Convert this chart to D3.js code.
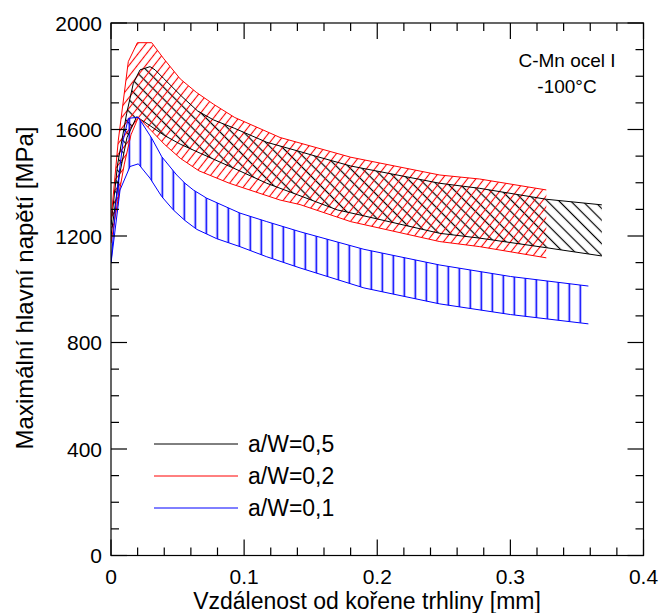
<!DOCTYPE html>
<html>
<head>
<meta charset="utf-8">
<script src="https://cdn.jsdelivr.net/npm/d3@7"></script>
<style>
  body { margin: 0; background: #fff; }
  text { font-family: "Liberation Sans", Arial, sans-serif; fill: #000; }
</style>
</head>
<body>
<svg id="chart" width="661" height="613"></svg>
<script>
// Scatter bands of maximum principal stress vs. distance from crack tip
// Each band: upper and lower envelope as [x (mm), stress (MPa)] pairs.
const blackUpper = [[0,1240],[0.005,1470],[0.0118,1661],[0.0168,1774],[0.0218,1824],[0.0293,1836],[0.0331,1824],[0.0393,1793],[0.053,1725],[0.065,1670],[0.077,1636],[0.093,1604],[0.117,1552],[0.142,1517],[0.155,1498],[0.18,1463],[0.247,1398],[0.277,1379],[0.327,1338],[0.3687,1317]];
const blackLower = [[0,1200],[0.006,1420],[0.012,1570],[0.0193,1648],[0.03,1612],[0.04,1578],[0.052,1545],[0.067,1511],[0.092,1455],[0.117,1398],[0.14,1355],[0.17,1298],[0.187,1279],[0.247,1210],[0.277,1192],[0.327,1156],[0.3687,1125]];

const redUpper = [[0,1260],[0.0055,1560],[0.013,1855],[0.0198,1926],[0.0306,1926],[0.0393,1868],[0.052,1790],[0.064,1740],[0.077,1695],[0.093,1645],[0.127,1570],[0.18,1496],[0.247,1429],[0.277,1414],[0.327,1373]];
const redLower = [[0,1173],[0.005,1330],[0.01,1470],[0.015,1580],[0.0205,1645],[0.03,1597],[0.04,1545],[0.052,1492],[0.066,1445],[0.089,1398],[0.127,1335],[0.142,1318],[0.18,1254],[0.247,1179],[0.277,1160],[0.327,1118]];

const blueUpper = [[0,1098],[0.0045,1370],[0.0092,1561],[0.013,1642],[0.0205,1646],[0.0306,1567],[0.0381,1498],[0.0494,1429],[0.0556,1398],[0.0618,1373],[0.0719,1342],[0.0969,1286],[0.117,1254],[0.142,1216],[0.19,1150],[0.247,1091],[0.3,1048],[0.3586,1012]];
const blueLower = [[0,1098],[0.0068,1373],[0.0143,1461],[0.0205,1471],[0.0293,1417],[0.0381,1348],[0.0468,1298],[0.0556,1258],[0.0644,1225],[0.0794,1190],[0.0969,1160],[0.117,1122],[0.142,1080],[0.19,1005],[0.247,945],[0.3,905],[0.3586,870]];

const seriesNames = ["a/W=0,5", "a/W=0,2", "a/W=0,1"];
const seriesColors = ["#000000", "#ff0000", "#0000ff"];

const xMajorTicks = [0, 0.1, 0.2, 0.3, 0.4];
const xTickLabels = ["0", "0.1", "0.2", "0.3", "0.4"];
const yMajorTicks = [0, 400, 800, 1200, 1600, 2000];
const yTickLabels = ["0", "400", "800", "1200", "1600", "2000"];

const xTitle = "Vzdálenost od kořene trhliny [mm]";
const yTitle = "Maximální hlavní napětí [MPa]";
const noteLines = ["C-Mn ocel I", "-100°C"];

const svg = d3.select("#chart");
const L = 111, R = 643.5, T = 23, B = 555.5;

const x = d3.scaleLinear().domain([0, 0.4]).range([L, R]);
const y = d3.scaleLinear().domain([0, 2000]).range([B, T]);

// hatch patterns
const defs = svg.append("defs");
function hatch(id, color, spacing, angle, width, offset) {
  const p = defs.append("pattern")
    .attr("id", id)
    .attr("patternUnits", "userSpaceOnUse")
    .attr("width", spacing).attr("height", 40)
    .attr("patternTransform", `translate(${offset},0) rotate(${angle})`);
  p.append("line")
    .attr("x1", spacing / 2).attr("x2", spacing / 2)
    .attr("y1", -5).attr("y2", 45)
    .attr("stroke", color).attr("stroke-width", width);
}
hatch("hatchBlack", "#000", 8.3, -45, 1.2, 0);
hatch("hatchRed", "#ff0000", 6.6, 38, 1.1, 0);
hatch("hatchBlue", "#0000ff", 11, 0, 1.6, L + 7.3 - 5.5);

svg.append("clipPath").attr("id", "plotClip")
  .append("rect").attr("x", L).attr("y", T).attr("width", R - L).attr("height", B - T);

const line = d3.line().x(d => x(d[0])).y(d => y(d[1]));

const bands = [
  { upper: blackUpper, lower: blackLower, color: seriesColors[0], fill: "url(#hatchBlack)" },
  { upper: redUpper, lower: redLower, color: seriesColors[1], fill: "url(#hatchRed)" },
  { upper: blueUpper, lower: blueLower, color: seriesColors[2], fill: "url(#hatchBlue)" }
];

const plot = svg.append("g").attr("clip-path", "url(#plotClip)");
bands.forEach(b => {
  const poly = b.upper.concat(b.lower.slice().reverse());
  plot.append("path").attr("d", line(poly) + "Z")
    .attr("fill", b.fill).attr("stroke", "none");
});
bands.forEach(b => {
  [b.upper, b.lower].forEach(edge => {
    plot.append("path").attr("d", line(edge))
      .attr("fill", "none").attr("stroke", b.color).attr("stroke-width", 1);
  });
});

// frame
svg.append("rect").attr("x", L).attr("y", T).attr("width", R - L).attr("height", B - T)
  .attr("fill", "none").attr("stroke", "#000").attr("stroke-width", 1.2);

// inward ticks on all four sides
const MAJ = 16, MIN = 8;
const xMinor = d3.range(0, 0.4001, 0.02);
const yMinor = d3.range(0, 2000.1, 100);
const axes = svg.append("g").attr("stroke", "#000").attr("stroke-width", 1.2);
xMinor.forEach(v => {
  const isMaj = xMajorTicks.some(m => Math.abs(m - v) < 1e-6);
  const len = isMaj ? MAJ : MIN;
  const px = x(v);
  axes.append("line").attr("x1", px).attr("x2", px).attr("y1", B).attr("y2", B - len);
  axes.append("line").attr("x1", px).attr("x2", px).attr("y1", T).attr("y2", T + len);
});
yMinor.forEach(v => {
  const isMaj = yMajorTicks.some(m => Math.abs(m - v) < 1e-6);
  const len = isMaj ? MAJ : MIN;
  const py = y(v);
  axes.append("line").attr("x1", L).attr("x2", L + len).attr("y1", py).attr("y2", py);
  axes.append("line").attr("x1", R).attr("x2", R - len).attr("y1", py).attr("y2", py);
});

// tick labels
svg.append("g").selectAll("text").data(xMajorTicks).join("text")
  .attr("x", d => x(d)).attr("y", 584)
  .attr("text-anchor", "middle").attr("font-size", 21)
  .text((d, i) => xTickLabels[i]);
svg.append("g").selectAll("text").data(yMajorTicks).join("text")
  .attr("x", 102).attr("y", d => y(d) + 7.5)
  .attr("text-anchor", "end").attr("font-size", 21)
  .text((d, i) => yTickLabels[i]);

// axis titles
svg.append("text").attr("x", 367).attr("y", 609)
  .attr("text-anchor", "middle").attr("font-size", 23).text(xTitle);
svg.append("text").attr("transform", `translate(33,288) rotate(-90)`)
  .attr("text-anchor", "middle").attr("font-size", 24).text(yTitle);

// annotation
svg.append("g").selectAll("text").data(noteLines).join("text")
  .attr("x", 567).attr("y", (d, i) => 67 + i * 26)
  .attr("text-anchor", "middle").attr("font-size", 19)
  .text(d => d);

// legend
const lg = svg.append("g");
seriesNames.forEach((name, i) => {
  const ly = 444 + i * 32;
  lg.append("line").attr("x1", 154).attr("x2", 238).attr("y1", ly).attr("y2", ly)
    .attr("stroke", seriesColors[i]).attr("stroke-width", 1);
  lg.append("text").attr("x", 248).attr("y", ly + 8).attr("font-size", 23).text(name);
});
</script>
</body>
</html>
